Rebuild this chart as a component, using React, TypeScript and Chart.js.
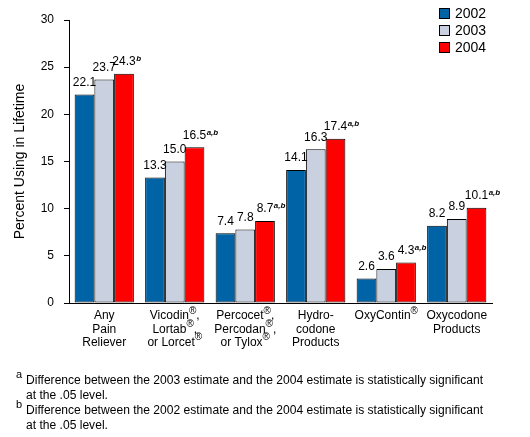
import React, { useEffect, useRef } from "react";
import { Chart, registerables } from "chart.js";
Chart.register(...registerables);

const categories: string[][] = [
  ["Any", "Pain", "Reliever"],
  ["Vicodin®,", "Lortab®,", "or Lorcet®"],
  ["Percocet®,", "Percodan®,", "or Tylox®"],
  ["Hydro-", "codone", "Products"],
  ["OxyContin®"],
  ["Oxycodone", "Products"],
];
const years = ["2002", "2003", "2004"];
const values2002 = [22.1, 13.3, 7.4, 14.1, 2.6, 8.2];
const values2003 = [23.7, 15.0, 7.8, 16.3, 3.6, 8.9];
const values2004 = [24.3, 16.5, 8.7, 17.4, 4.3, 10.1];
const notes2002 = ["", "", "", "", "", ""];
const notes2003 = ["", "", "", "", "", ""];
const notes2004 = ["b", "a,b", "a,b", "a,b", "a,b", "a,b"];
const yMin = 0;
const yMax = 30;
const yStep = 5;
const yTitle = "Percent Using in Lifetime";
const footnotes: { mark: string; lines: string[] }[] = [
  {
    mark: "a",
    lines: [
      "Difference between the 2003 estimate and the 2004 estimate is statistically significant",
      "at the .05 level.",
    ],
  },
  {
    mark: "b",
    lines: [
      "Difference between the 2002 estimate and the 2004 estimate is statistically significant",
      "at the .05 level.",
    ],
  },
];

const colors = ["#0063A6", "#C9D1E1", "#FF0000"];
const FONT = "'Liberation Sans', Arial, sans-serif";

function drawRich(
  ctx: CanvasRenderingContext2D,
  text: string,
  cx: number,
  y: number,
  size: number,
  supSize: number
) {
  const parts = text.split("®");
  const segs: { t: string; sup: boolean }[] = [];
  parts.forEach((p, i) => {
    if (p) segs.push({ t: p, sup: false });
    if (i < parts.length - 1) segs.push({ t: "®", sup: true });
  });
  let total = 0;
  const widths = segs.map((s) => {
    ctx.font = `${s.sup ? supSize : size}px ${FONT}`;
    const w = ctx.measureText(s.t).width;
    total += w;
    return w;
  });
  let x = cx - total / 2;
  ctx.textAlign = "left";
  ctx.textBaseline = "middle";
  segs.forEach((s, i) => {
    ctx.font = `${s.sup ? supSize : size}px ${FONT}`;
    ctx.fillText(s.t, x, s.sup ? y - 5 : y);
    x += widths[i];
  });
}

const customPlugin = {
  id: "custom",
  afterDraw(chart: any) {
    const ctx: CanvasRenderingContext2D = chart.ctx;
    const area = chart.chartArea;
    const xScale = chart.scales.x;
    ctx.save();
    ctx.fillStyle = "#000";
    // x axis extension to the left
    ctx.strokeStyle = "#000";
    ctx.lineWidth = 1;
    ctx.beginPath();
    ctx.moveTo(area.left - 5, Math.round(area.bottom) + 0.5);
    ctx.lineTo(area.left, Math.round(area.bottom) + 0.5);
    ctx.stroke();

    // value labels
    const notes = [notes2002, notes2003, notes2004];
    chart.data.datasets.forEach((ds: any, di: number) => {
      const meta = chart.getDatasetMeta(di);
      meta.data.forEach((el: any, i: number) => {
        const v = ds.data[i] as number;
        const txt = v.toFixed(1);
        ctx.font = `12px ${FONT}`;
        ctx.textAlign = "center";
        ctx.textBaseline = "bottom";
        const y = el.y - 6;
        ctx.fillText(txt, el.x, y);
        const n = notes[di][i];
        if (n) {
          const w = ctx.measureText(txt).width;
          ctx.font = `italic bold 8px ${FONT}`;
          ctx.textAlign = "left";
          ctx.fillText(n, el.x + w / 2 + 0.5, y - 5);
        }
      });
    });

    // x category labels
    categories.forEach((lines, i) => {
      const cx = xScale.getPixelForValue(i);
      lines.forEach((ln, li) => {
        drawRich(ctx, ln, cx, area.bottom + 13 + li * 13.3, 12, 10);
      });
    });

    // legend
    years.forEach((yr, i) => {
      const by = 8 + i * 17;
      ctx.fillStyle = colors[i];
      ctx.fillRect(439, by, 11, 11);
      ctx.strokeStyle = "#000";
      ctx.strokeRect(439.5, by + 0.5, 10, 10);
      ctx.fillStyle = "#000";
      ctx.font = `14px ${FONT}`;
      ctx.textAlign = "left";
      ctx.textBaseline = "middle";
      ctx.fillText(yr, 455, by + 6);
    });

    // footnotes
    const targetW = 457;
    footnotes.forEach((fn, fi) => {
      const baseY = 381 + fi * 30;
      ctx.font = `11px ${FONT}`;
      ctx.textAlign = "left";
      ctx.textBaseline = "middle";
      ctx.fillText(fn.mark, 16, baseY - 6);
      ctx.font = `12.5px ${FONT}`;
      const w = ctx.measureText(fn.lines[0]).width;
      const sx = targetW / w;
      fn.lines.forEach((ln, li) => {
        ctx.save();
        ctx.translate(26, baseY + li * 14.5);
        ctx.scale(sx, 1);
        ctx.fillText(ln, 0, 0);
        ctx.restore();
      });
    });
    ctx.restore();
  },
};

export default function App() {
  const ref = useRef<HTMLCanvasElement>(null);
  useEffect(() => {
    if (!ref.current) return;
    const chart = new Chart(ref.current, {
      type: "bar",
      data: {
        labels: categories.map((c) => c.join(" ")),
        datasets: [values2002, values2003, values2004].map((vals, i) => ({
          label: years[i],
          data: vals,
          backgroundColor: colors[i],
          borderColor: "#000",
          borderWidth: 1,
          borderSkipped: false,
          categoryPercentage: 0.84,
          barPercentage: 1,
        })),
      },
      options: {
        responsive: false,
        animation: false,
        devicePixelRatio: 1,
        layout: { padding: { left: 0, right: 38, top: 20, bottom: 0 } },
        plugins: {
          legend: { display: false },
          tooltip: { enabled: false },
          title: { display: false },
        },
        scales: {
          x: {
            grid: { display: false },
            border: { display: true, color: "#000", width: 1 },
            ticks: { display: false },
            afterFit: (s: any) => {
              s.height = 134;
            },
          },
          y: {
            min: yMin,
            max: yMax,
            ticks: {
              stepSize: yStep,
              color: "#000",
              font: { family: FONT, size: 12 },
              padding: 10,
            },
            grid: {
              display: true,
              drawOnChartArea: false,
              drawTicks: true,
              tickLength: 5,
              color: "#000",
            },
            border: { display: true, color: "#000", width: 1 },
            title: {
              display: true,
              text: yTitle,
              color: "#000",
              font: { family: FONT, size: 14 },
              padding: { top: 12, bottom: 0 },
            },
            afterFit: (s: any) => {
              s.width = 69;
            },
          },
        },
      },
      plugins: [customPlugin],
    });
    return () => chart.destroy();
  }, []);
  return (
    <div style={{ position: "fixed", left: 0, top: 0, width: 530, height: 437, background: "#fff" }}>
      <canvas ref={ref} width={530} height={437} style={{ width: 530, height: 437, display: "block" }} />
    </div>
  );
}
